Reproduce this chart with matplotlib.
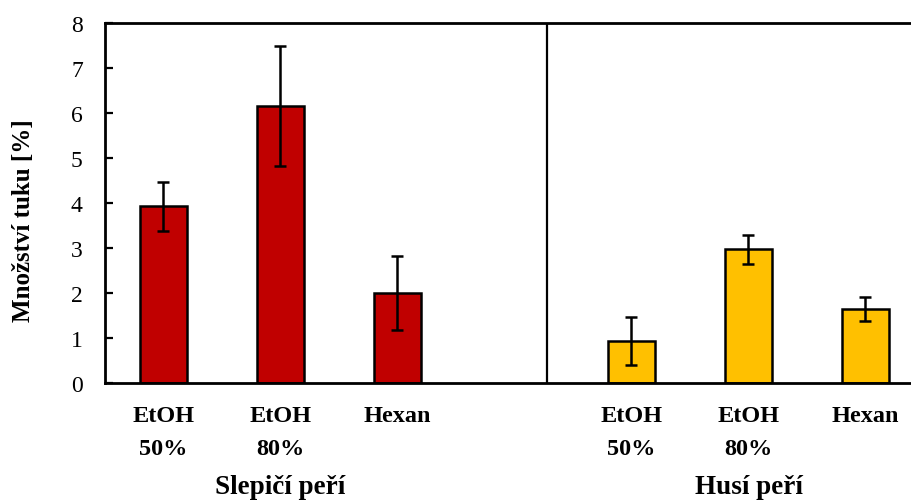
import matplotlib
matplotlib.use("Agg")
import matplotlib.pyplot as plt
import matplotlib.transforms as mtransforms
import numpy as np

categories = ["EtOH\n50%", "EtOH\n80%", "Hexan", "", "EtOH\n50%", "EtOH\n80%", "Hexan"]
chicken_vals = [3.92, 6.15, 2.00]
chicken_err_hi = [4.46, 7.47, 2.82]
chicken_err_lo = [3.37, 4.81, 1.18]
goose_vals = [0.94, 2.98, 1.65]
goose_err_hi = [1.46, 3.29, 1.91]
goose_err_lo = [0.40, 2.64, 1.38]
groups = ["Slepičí peří", "Husí peří"]
group_pos = [1, 5]
yticks = [0, 1, 2, 3, 4, 5, 6, 7, 8]

plt.rcParams['font.family'] = ['Liberation Serif', 'DejaVu Serif']

W, H = 912, 502
fig = plt.figure(figsize=(W / 100, H / 100), dpi=100)
ax_left = 105 / W
ax_right = 924 / W
ax_bottom = (H - 384) / H
ax_top = (H - 23.5) / H
ax = fig.add_axes([ax_left, ax_bottom, ax_right - ax_left, ax_top - ax_bottom])

xc = np.array([0, 1, 2])
xg = np.array([4, 5, 6])
bw = 0.41
red = "#C00000"
yellow = "#FFC000"

def draw(x, vals, hi, lo, color):
    vals = np.array(vals); hi = np.array(hi); lo = np.array(lo)
    ax.bar(x, vals, width=bw, color=color, edgecolor="black", linewidth=1.8, zorder=2)
    ax.errorbar(x, vals, yerr=[vals - lo, hi - vals], fmt="none", ecolor="black",
                elinewidth=1.8, capsize=4.5, capthick=1.8, zorder=3)

draw(xc, chicken_vals, chicken_err_hi, chicken_err_lo, red)
draw(xg, goose_vals, goose_err_hi, goose_err_lo, yellow)

ax.axvline(3.275, color="black", linewidth=1.6, zorder=1)

ax.set_xlim(-0.5, 6.5)
ax.set_ylim(0, 8)
ax.set_yticks(yticks)
ax.set_yticklabels([str(t) for t in yticks], fontsize=17)
ax.tick_params(axis="y", direction="in", length=6, width=1.6, pad=16)
ax.set_xticks(range(len(categories)))
ax.set_xticklabels(categories, fontsize=17.5, fontweight="bold", linespacing=1.72)
ax.tick_params(axis="x", length=0, pad=16)
for s in ax.spines.values():
    s.set_linewidth(2.0)

fig.text(24 / W, (H - 221) / H, "Množství tuku [%]", rotation=90, fontsize=18,
         fontweight="bold", ha="center", va="center")

trans = mtransforms.blended_transform_factory(ax.transData, fig.transFigure)
for gx, g in zip(group_pos, groups):
    ax.text(gx, (H - 494) / H, g, transform=trans, fontsize=19.5,
            fontweight="bold", ha="center", va="baseline")

fig.savefig("out.png", dpi=100)
